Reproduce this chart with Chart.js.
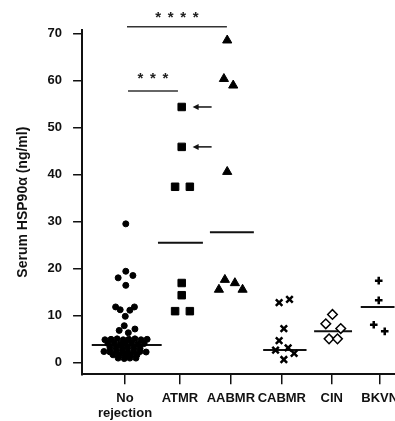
<!DOCTYPE html>
<html lang="en">
<head>
    <meta charset="UTF-8">
    <title>Serum HSP90a by rejection type</title>
    <script src="https://cdn.jsdelivr.net/npm/chart.js@4.4.1/dist/chart.umd.min.js"></script>
    <style>
        body {
            margin: 0;
            background: #fff;
            overflow: hidden;
        }
    </style>
</head>
<body>
    <!-- wider than the window: Chart.js reserves room for the last label, the original lets it run off the edge -->
    <canvas id="hspChart" width="405" height="421"></canvas>

    <script>
        // categories and where their ticks sit on the x scale
        const categories = [['No', 'rejection'], 'ATMR', 'AABMR', 'CABMR', 'CIN', 'BKVN'];
        const catPos = [0.945, 2.025, 3.027, 4.029, 5.011, 5.955];
        const yTicks = [0, 10, 20, 30, 40, 50, 60, 70];

        // individual values [x, y] (ng/ml)
        const noRejection = [
            [0.96, 29.5], [0.96, 19.4], [0.81, 18.0], [1.10, 18.5], [0.96, 16.4],
            [0.76, 11.8], [0.85, 11.2], [1.13, 11.8], [1.04, 11.1], [0.95, 9.8],
            [0.93, 7.8], [1.14, 7.1], [0.83, 6.8], [1.01, 6.3],
            [0.55, 4.8], [0.67, 4.9], [0.79, 5.0], [0.91, 4.8], [1.02, 4.9], [1.14, 5.0], [1.26, 4.8], [1.38, 4.9],
            [0.61, 4.0], [0.73, 4.1], [0.85, 3.9], [0.96, 4.0], [1.08, 4.1], [1.20, 3.9], [1.32, 4.0],
            [0.65, 3.1], [0.77, 3.2], [0.89, 3.0], [1.00, 3.1], [1.12, 3.2], [1.24, 3.0],
            [0.53, 2.3], [0.65, 2.2], [0.77, 2.4], [0.89, 2.3], [1.00, 2.2], [1.12, 2.4], [1.24, 2.3], [1.36, 2.2],
            [0.71, 1.6], [0.83, 1.5], [0.95, 1.6], [1.06, 1.5], [1.18, 1.6],
            [0.81, 0.9], [0.93, 0.8], [1.04, 0.9], [1.16, 0.9]
        ];
        const atmr = [
            [2.06, 54.4], [2.06, 45.9], [1.93, 37.4], [2.22, 37.4],
            [2.06, 16.9], [2.06, 14.3], [1.93, 10.9], [2.22, 10.9]
        ];
        const aabmr = [
            [2.955, 68.6], [2.89, 60.4], [3.073, 59.0], [2.955, 40.6],
            [2.909, 17.6], [3.106, 16.9], [2.792, 15.5], [3.257, 15.5]
        ];
        const cabmr = [
            [3.976, 12.7], [4.18, 13.4], [4.069, 7.2], [3.976, 4.6],
            [3.906, 2.6], [4.153, 3.1], [4.271, 1.9], [4.069, 0.6]
        ];
        const cin = [[5.025, 10.2], [4.894, 8.2], [5.188, 7.2], [4.958, 5.0], [5.124, 5.0]];
        const bkvn = [[5.935, 17.4], [5.935, 13.2], [5.837, 8.0], [6.053, 6.6]];

        // median bars: [x from, x to, y]
        const medians = [
            [0.291, 1.666, 3.7],
            [1.593, 2.477, 25.5],
            [2.615, 3.479, 27.7],
            [3.662, 4.515, 2.6],
            [4.664, 5.410, 6.6],
            [5.581, 6.25, 11.8]
        ];

        // significance brackets: [x from, x to, y of bar, stars, y of stars]
        const sigBars = [
            [0.984, 2.949, 71.5, '****', 74.4],
            [1.004, 1.986, 57.8, '***', 61.4]
        ];

        // arrows pointing at two ATMR values: [x tip, x tail, y]
        const arrows = [[2.275, 2.648, 54.4], [2.275, 2.648, 45.9]];

        const FONT = "'Liberation Sans', Arial, sans-serif";

        function toPoints(arr) {
            return arr.map(p => ({ x: p[0], y: p[1] }));
        }

        function markers(data, style, radius, extra) {
            return Object.assign({
                data: toPoints(data),
                pointStyle: style,
                pointRadius: radius,
                pointHoverRadius: radius,
                backgroundColor: '#000',
                borderColor: '#000',
                borderWidth: 1
            }, extra || {});
        }

        const lineSets = [];
        medians.forEach(m => {
            lineSets.push({
                type: 'line',
                data: [{ x: m[0], y: m[2] }, { x: m[1], y: m[2] }],
                borderColor: '#111',
                borderWidth: 2,
                pointRadius: 0,
                showLine: true
            });
        });
        sigBars.forEach(s => {
            lineSets.push({
                type: 'line',
                data: [{ x: s[0], y: s[2] }, { x: s[1], y: s[2] }],
                borderColor: '#333',
                borderWidth: 1.5,
                pointRadius: 0,
                showLine: true,
                clip: false
            });
        });

        // stars and arrows drawn on top using the chart's own scales
        const annotations = {
            id: 'annotations',
            afterDatasetsDraw(chart) {
                const ctx = chart.ctx;
                const xs = chart.scales.x;
                const ys = chart.scales.y;
                ctx.save();
                ctx.fillStyle = '#222';
                const size = 15;
                ctx.font = 'bold ' + size + 'px ' + FONT;
                ctx.textAlign = 'center';
                ctx.textBaseline = 'alphabetic';
                const gap = 12.5;
                sigBars.forEach(s => {
                    const cx = xs.getPixelForValue((s[0] + s[1]) / 2);
                    const cy = ys.getPixelForValue(s[4]) + size * 0.57;
                    const n = s[3].length;
                    for (let i = 0; i < n; i++) {
                        ctx.fillText('*', cx + (i - (n - 1) / 2) * gap, cy);
                    }
                });

                ctx.strokeStyle = '#111';
                ctx.fillStyle = '#111';
                ctx.lineWidth = 1.5;
                arrows.forEach(a => {
                    const x1 = xs.getPixelForValue(a[0]);
                    const x2 = xs.getPixelForValue(a[1]);
                    const y = ys.getPixelForValue(a[2]);
                    ctx.beginPath();
                    ctx.moveTo(x1 + 4, y);
                    ctx.lineTo(x2, y);
                    ctx.stroke();
                    ctx.beginPath();
                    ctx.moveTo(x1, y);
                    ctx.lineTo(x1 + 6, y - 3);
                    ctx.lineTo(x1 + 6, y + 3);
                    ctx.closePath();
                    ctx.fill();
                });
                ctx.restore();
            }
        };

        const ctx = document.getElementById('hspChart').getContext('2d');
        const hspChart = new Chart(ctx, {
            type: 'scatter',
            data: {
                datasets: [
                    markers(noRejection, 'circle', 3),
                    markers(atmr, 'rect', 5.3),
                    markers(aabmr, 'triangle', 5.3),
                    markers(cabmr, 'crossRot', 4.6, { borderWidth: 2.5 }),
                    markers(cin, 'rectRot', 4.8, { backgroundColor: '#fff', borderWidth: 1.5 }),
                    markers(bkvn, 'cross', 3.8, { borderWidth: 2.5 })
                ].concat(lineSets)
            },
            options: {
                responsive: false,
                animation: false,
                events: [],
                layout: {
                    // x axis reserves its tick padding twice, pull it back down
                    padding: { top: 30, right: 0, bottom: -6.3, left: 0 }
                },
                plugins: {
                    legend: { display: false },
                    tooltip: { enabled: false }
                },
                scales: {
                    x: {
                        type: 'linear',
                        min: 0.10,
                        max: 6.25,
                        afterBuildTicks: (scale) => {
                            scale.ticks = catPos.map(v => ({ value: v }));
                        },
                        ticks: {
                            autoSkip: false,
                            maxRotation: 0,
                            padding: 6.5,
                            color: '#111',
                            font: { family: FONT, size: 13, weight: 'bold', lineHeight: 1.154 },
                            callback: (value, index) => categories[index]
                        },
                        grid: {
                            display: true,
                            drawOnChartArea: false,
                            drawTicks: true,
                            tickLength: 10,
                            color: '#111',
                            lineWidth: 1.5
                        },
                        border: { display: true, color: '#111', width: 2 }
                    },
                    y: {
                        min: -2.55,
                        max: 70.8,
                        afterBuildTicks: (scale) => {
                            scale.ticks = yTicks.map(v => ({ value: v }));
                        },
                        ticks: {
                            padding: 11,
                            color: '#111',
                            font: { family: FONT, size: 13, weight: 'bold' }
                        },
                        grid: {
                            display: true,
                            drawOnChartArea: false,
                            drawTicks: true,
                            tickLength: 9,
                            color: '#111',
                            lineWidth: 1.5
                        },
                        border: { display: true, color: '#111', width: 2 },
                        title: {
                            display: true,
                            text: 'Serum HSP90\u03b1 (ng/ml)',
                            color: '#111',
                            font: { family: FONT, size: 14, weight: 'bold', lineHeight: 1.2 },
                            padding: { top: 15, bottom: 4.8 }
                        }
                    }
                }
            },
            plugins: [annotations]
        });
    </script>
</body>
</html>
